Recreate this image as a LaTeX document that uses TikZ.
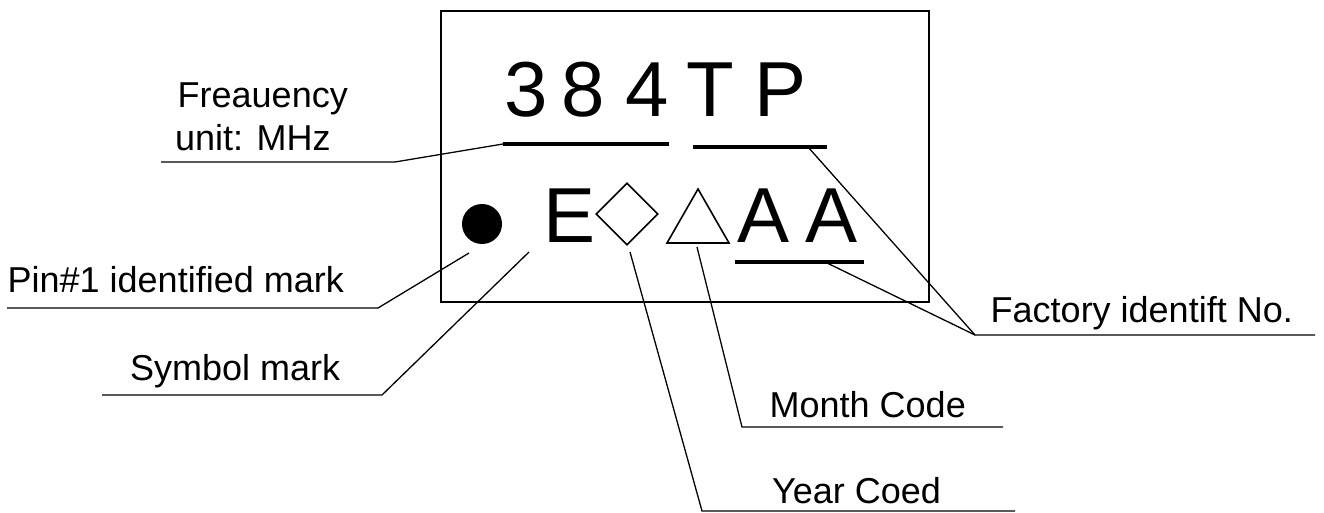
\documentclass[tikz,border=0pt]{standalone}
\usepackage{fontspec}
\setmainfont{Liberation Sans}
\usetikzlibrary{shapes.geometric}
\begin{document}
\begin{tikzpicture}[x=1pt,y=-1pt,
  lbl/.style={font=\fontsize{36}{43}\selectfont, inner sep=0pt, anchor=base west},
  big/.style={font=\fontsize{78}{90}\selectfont, inner sep=0pt, anchor=base},
  leader/.style={line width=1.3pt, line join=miter},
  uline/.style={line width=4pt},
  frame/.style={line width=1.6pt},
  glyphline/.style={line width=1.6pt, line join=miter}]
\useasboundingbox (0,0) rectangle (1324,513);

% chip outline
\draw[frame] (441,11) rectangle (929,302);

% first marking row: frequency and model
\node[big] (c3) at (526.5,117) {3};
\node[big] (c8) at (583.5,117) {8};
\node[big] (c4) at (647,117) {4};
\node[big] (cT) at (710.5,117) {T};
\node[big] (cP) at (780.5,117) {P};

% second marking row: pin mark, symbol, date codes, factory id
\node[circle, fill=black, minimum size=40pt, inner sep=0pt] (dot) at (482,224) {};
\node[big] (cE) at (570,242) {E};
\node[diamond, draw, glyphline, minimum width=62pt, minimum height=62pt, inner sep=0pt] (dia) at (627,214) {};
\coordinate (trL) at (667,243);
\coordinate (trT) at (698,189);
\coordinate (trR) at (729,243);
\draw[glyphline] (trL) -- (trT) -- (trR) -- cycle;
\node[big] (cA1) at (763.5,242) {A};
\node[big] (cA2) at (831.5,242) {A};

% underlines
\coordinate (uFl) at (503,144);  \coordinate (uFr) at (669,144);
\coordinate (uTl) at (693,147);  \coordinate (uTr) at (827,147);
\coordinate (uAl) at (735,262);  \coordinate (uAr) at (864,262);
\draw[uline] (uFl) -- (uFr);
\draw[uline] (uTl) -- (uTr);
\draw[uline] (uAl) -- (uAr);

% labels
\node[lbl] (fq1) at (177.5,108) {Freauency};
\node[lbl] (fq2) at (175,151) {unit: MHz};
\node[lbl] (pin) at (7.5,292) {Pin\#1 identified mark};
\node[lbl] (sym) at (130,380) {Symbol mark};
\node[lbl] (mon) at (769.5,417) {Month Code};
\node[lbl] (yr) at (772,503) {Year Coed};
\node[lbl] (fac) at (990.5,322) {Factory identift No.};

% leader lines
\coordinate (fqA) at (161,162);   \coordinate (fqB) at (395,162);
\draw[leader] (fqA) -- (fqB) -- (uFl);

\coordinate (pinA) at (7,308);    \coordinate (pinB) at (378,308);
\coordinate (pinC) at (469,253);
\draw[leader] (pinA) -- (pinB) -- (pinC);

\coordinate (symA) at (102,395);  \coordinate (symB) at (382,395);
\coordinate (symC) at (529,252);
\draw[leader] (symA) -- (symB) -- (symC);

\coordinate (yrC) at (630,252);   \coordinate (yrB) at (702,511);
\coordinate (yrA) at (1015,511);
\draw[leader] (yrC) -- (yrB) -- (yrA);

\coordinate (monC) at (697,247);  \coordinate (monB) at (742,427);
\coordinate (monA) at (1003,427);
\draw[leader] (monC) -- (monB) -- (monA);

\coordinate (facB) at (975,335);  \coordinate (facA) at (1315,335);
\coordinate (facT) at (808,147);  \coordinate (facL) at (825,262);
\draw[leader] (facT) -- (facB) -- (facA);
\draw[leader] (facL) -- (facB);
\end{tikzpicture}
\end{document}
